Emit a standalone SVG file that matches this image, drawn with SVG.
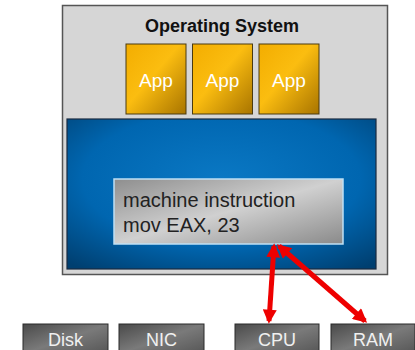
<svg xmlns="http://www.w3.org/2000/svg" width="415" height="350" viewBox="0 0 415 350">
<defs>
<linearGradient id="gApp" x1="0" y1="0" x2="1" y2="1">
<stop offset="0" stop-color="#f3ad00"/><stop offset="0.45" stop-color="#fbbd10"/><stop offset="1" stop-color="#a87400"/>
</linearGradient>
<radialGradient id="gBlue" cx="0.5" cy="0.4" r="0.75">
<stop offset="0" stop-color="#0a78c4"/><stop offset="0.6" stop-color="#0066b0"/><stop offset="1" stop-color="#003f70"/>
</radialGradient>
<linearGradient id="gInstr" x1="0" y1="0" x2="1" y2="1">
<stop offset="0" stop-color="#8e8e8e"/><stop offset="0.5" stop-color="#d0d0d0"/><stop offset="1" stop-color="#8a8a8a"/>
</linearGradient>
<linearGradient id="gHw" x1="0" y1="0" x2="1" y2="1">
<stop offset="0" stop-color="#4a4a4a"/><stop offset="0.5" stop-color="#7a7a7a"/><stop offset="1" stop-color="#555"/>
</linearGradient>
<marker id="ah" viewBox="0 0 10 10" refX="8" refY="5" markerWidth="3" markerHeight="2.8" orient="auto-start-reverse" markerUnits="strokeWidth">
<path d="M0,0 L10,5 L0,10 z" fill="#ee0000"/>
</marker>
<style>
text{font-family:"Liberation Sans",Arial,sans-serif}
.app rect{fill:url(#gApp);stroke:#4a3a10;stroke-width:1}
.app text{fill:#fff;font-size:19px;text-anchor:middle}
.hw rect{fill:url(#gHw);stroke:#2a2a2a;stroke-width:1}
.hw text{fill:#f0f0f0;font-size:18px;text-anchor:middle}
.conn line{stroke:#ee0000;stroke-width:5;marker-start:url(#ah);marker-end:url(#ah)}
</style>
</defs>
<g id="os">
<rect x="62.5" y="5.5" width="325" height="269" fill="#d6d6d6" stroke="#555" stroke-width="1.5"/>
<text x="222" y="32" font-size="18" font-weight="bold" text-anchor="middle" fill="#111">Operating System</text>
</g>
<g id="app1" class="app"><rect x="126" y="44" width="60" height="70"/><text x="156" y="87">App</text></g>
<g id="app2" class="app"><rect x="192.5" y="44" width="60" height="70"/><text x="222.5" y="87">App</text></g>
<g id="app3" class="app"><rect x="259" y="44" width="60" height="70"/><text x="289" y="87">App</text></g>
<g id="kernel">
<rect x="67" y="119" width="309" height="150" fill="url(#gBlue)" stroke="#1a2a40" stroke-width="1.2"/>
</g>
<g id="instruction">
<rect x="114" y="179" width="229" height="65" fill="url(#gInstr)" stroke="#bfe0f5" stroke-width="1.5"/>
<text x="123" y="207" font-size="20" fill="#222">machine instruction</text>
<text x="123" y="232" font-size="20" fill="#222">mov EAX, 23</text>
</g>
<g id="disk" class="hw"><rect x="23" y="324" width="85" height="30"/><text x="65.5" y="346">Disk</text></g>
<g id="nic" class="hw"><rect x="119" y="324" width="85" height="30"/><text x="161.5" y="346">NIC</text></g>
<g id="cpu" class="hw"><rect x="235" y="324" width="84" height="30"/><text x="277" y="346">CPU</text></g>
<g id="ram" class="hw"><rect x="331" y="324" width="84" height="30"/><text x="373" y="346">RAM</text></g>
<g id="connectors" class="conn">
<line x1="274" y1="246" x2="269" y2="321"/>
<line x1="279" y1="246" x2="365" y2="321"/>
</g>
</svg>
